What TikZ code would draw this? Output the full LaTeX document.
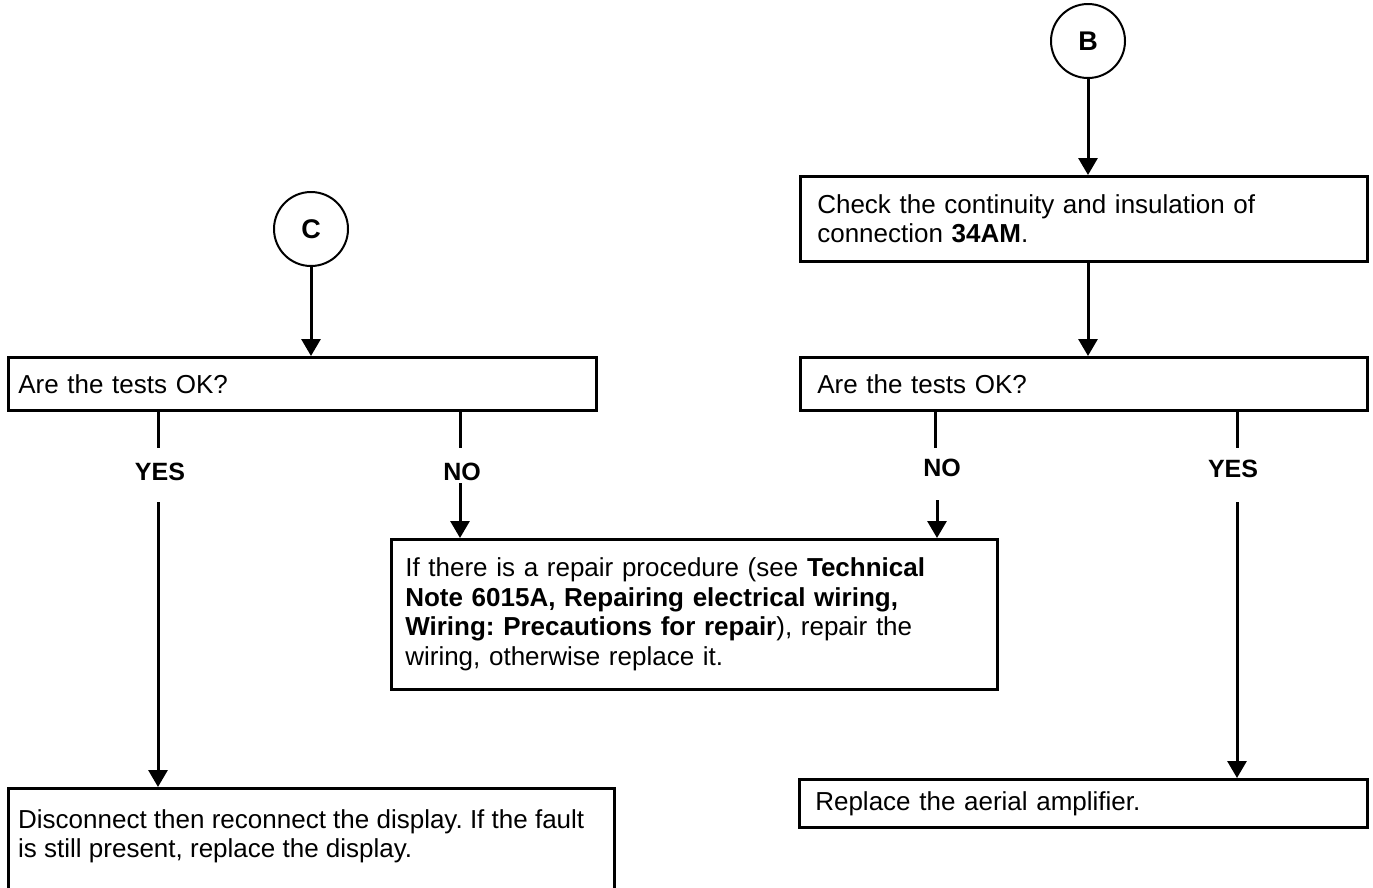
\documentclass[tikz,border=0pt]{standalone}
\usepackage{fontspec}
\setmainfont{Liberation Sans}
\usetikzlibrary{arrows.meta}
\frenchspacing
\begin{document}
\begin{tikzpicture}[x=1pt,y=-1pt,
  box/.style={draw, line width=2.6pt, anchor=north west, align=left, inner xsep=12pt, inner ysep=0pt, font=\fontsize{26}{29.5}\selectfont},
  plain/.style={anchor=north west, align=left, inner sep=0pt, font=\fontsize{26}{29.5}\selectfont},
  circ/.style={draw, circle, line width=2pt, minimum size=74pt, inner sep=0pt, font=\bfseries\fontsize{27}{30}\selectfont},
  lbl/.style={font=\bfseries\fontsize{25}{28}\selectfont, inner sep=0pt},
  conn/.style={line width=3pt},
  arr/.style={line width=3pt, -{Triangle[width=19pt,length=17pt]}},
]
\useasboundingbox[fill=white] (0,0) rectangle (1373,887);

% right column
\node[circ] (B) at (1088,41) {B};
\node[box, inner xsep=17pt, minimum width=567pt, minimum height=85pt, text width=533pt] (chk) at (799,175)
  {Check the continuity and insulation of\\connection \textbf{34AM}.};
\node[box, inner xsep=17pt, minimum width=567pt, minimum height=53pt, text width=533pt] (areR) at (799,356)
  {Are the tests OK?};

% left column
\node[circ] (C) at (311,229) {C};
\node[box, inner xsep=10pt, minimum width=588pt, minimum height=53pt, text width=568pt] (areL) at (7,356)
  {Are the tests OK?};

% middle box
\node[box, inner xsep=14pt, minimum width=606pt, minimum height=150pt, text width=578pt] (mid) at (390,538)
  {If there is a repair procedure (see \textbf{Technical}\\
   \textbf{Note 6015A, Repairing electrical wiring,}\\
   \textbf{Wiring: Precautions for repair}), repair the\\
   wiring, otherwise replace it.};

% bottom boxes
\node[box, minimum width=606pt, minimum height=130pt] (botL) at (7,787) {};
\node[plain] (botLt) at (18,809)
  {Disconnect then reconnect the display. If the fault\\is still present, replace the display.};
\node[box, inner xsep=16pt, minimum width=568pt, minimum height=48pt, text width=536pt] (botR) at (798,778)
  {Replace the aerial amplifier.};

% labels
\node[lbl] (yesL) at (160,472) {YES};
\node[lbl] (noL)  at (462,472) {NO};
\node[lbl] (noR)  at (942,468) {NO};
\node[lbl] (yesR) at (1233,469) {YES};

\coordinate (yLa) at (158,448);  \coordinate (yLb) at (158,502);
\coordinate (nLa) at (460,448);  \coordinate (nLb) at (460,483);
\coordinate (nRa) at (935,448);  \coordinate (nRb) at (937,500);
\coordinate (yRa) at (1237,448); \coordinate (yRb) at (1237,502);

% connectors
\draw[arr] (B.south) -- (chk.north -| B.south);
\draw[arr] (chk.south -| B.south) -- (areR.north -| B.south);
\draw[arr] (C.south) -- (areL.north -| C.south);

\draw[conn] (areL.south -| yLa) -- (yLa);
\draw[arr]  (yLb) -- (botL.north -| yLb);
\draw[conn] (areL.south -| nLa) -- (nLa);
\draw[arr]  (nLb) -- (mid.north -| nLb);
\draw[conn] (areR.south -| nRa) -- (nRa);
\draw[arr]  (nRb) -- (mid.north -| nRb);
\draw[conn] (areR.south -| yRa) -- (yRa);
\draw[arr]  (yRb) -- (botR.north -| yRb);
\end{tikzpicture}
\end{document}
